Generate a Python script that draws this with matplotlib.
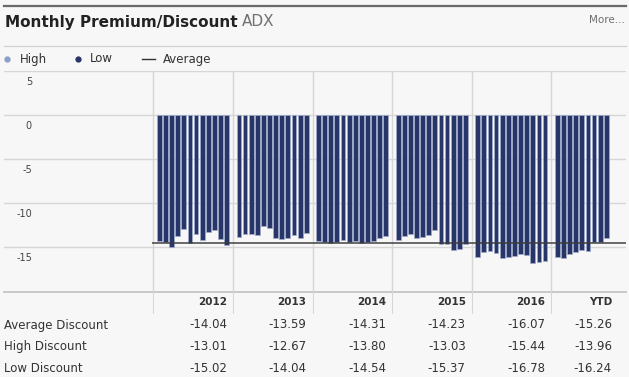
import numpy as np
import matplotlib.pyplot as plt

# data
years = ['2012', '2013', '2014', '2015', '2016', 'YTD']
m2012 = [-14.36, -14.47, -15.02, -13.80, -13.01, -14.55, -13.53, -14.25, -13.30, -13.12, -14.10, -14.82]
m2013 = [-13.91, -13.49, -13.49, -13.61, -12.67, -12.89, -13.98, -14.04, -14.02, -13.61, -14.02, -13.41]
m2014 = [-14.29, -14.44, -14.51, -14.40, -14.21, -14.44, -14.36, -14.54, -14.40, -14.32, -13.95, -13.80]
m2015 = [-14.17, -13.72, -13.57, -14.02, -13.87, -13.68, -13.03, -14.70, -14.66, -15.37, -15.23, -14.66]
m2016 = [-16.13, -15.53, -15.44, -15.68, -16.25, -16.13, -16.07, -15.79, -15.87, -16.78, -16.75, -16.55]
mytd = [-16.08, -16.24, -15.82, -15.52, -15.36, -15.50, -14.44, -14.42, -13.96]
monthly = [m2012, m2013, m2014, m2015, m2016, mytd]

avg_disc = [-14.04, -13.59, -14.31, -14.23, -16.07, -15.26]
high_disc = [-13.01, -12.67, -13.80, -13.03, -15.44, -13.96]
low_disc = [-15.02, -14.04, -14.54, -15.37, -16.78, -16.24]
row_names = ['Average Discount', 'High Discount', 'Low Discount']
yticks = [5, 0, -5, -10, -15]

W, H = 629, 377
col_left, col_w = 153.3, 79.6
bar_col = '#283569'
grid_col = '#d6d6d6'
txt_col = '#333333'

fig = plt.figure(figsize=(W / 100, H / 100), dpi=100)
fig.patch.set_facecolor('#f7f7f7')

# background axes in pixel coordinates for the frame, title, legend and table
bg = fig.add_axes([0, 0, 1, 1])
bg.set_xlim(0, W)
bg.set_ylim(H, 0)
bg.axis('off')

bg.plot([4, 626], [5.5, 5.5], color='#6a6a6a', lw=1.6)
bg.plot([4, 626], [46, 46], color='#d0d0d0', lw=0.9)
title = bg.text(5, 22, 'Monthly Premium/Discount', fontsize=11, fontweight='bold',
                color='#222222', va='center')
bg.annotate('ADX', xy=(1, 0.5), xycoords=title, xytext=(4, 0), textcoords='offset pixels',
            fontsize=11, color='#707070', va='center')
bg.text(625, 20, 'More...', fontsize=7.5, color='#6e6e6e', ha='right', va='center')

# legend
bg.plot(7, 59, 'o', ms=3.5, color='#8a9fca')
bg.text(20, 59, 'High', fontsize=8.5, color=txt_col, va='center')
bg.plot(78, 59, 'o', ms=3.5, color=bar_col)
bg.text(90, 59, 'Low', fontsize=8.5, color=txt_col, va='center')
bg.plot([142, 155], [59, 59], color='#333333', lw=1)
bg.text(163, 59, 'Average', fontsize=8.5, color=txt_col, va='center')

# chart
ax = fig.add_axes([4 / W, 1 - 291 / H, 622 / W, 220 / H])
ax.patch.set_alpha(0)
ax.set_xlim(-(col_left - 4) / col_w, (626 - col_left) / col_w)
ax.set_ylim(-20, 5)
for s in ax.spines.values():
    s.set_visible(False)
ax.set_xticks([])
ax.set_yticks([])

for v in yticks:
    ax.axhline(v, color=grid_col, lw=1, zorder=0)
    ax.annotate(str(v), xy=(0, v), xycoords=('axes fraction', 'data'), xytext=(28, -11),
                textcoords='offset pixels', ha='right', va='center', fontsize=7, color='#444444')
for i in range(len(years)):
    ax.axvline(i, color=grid_col, lw=1, zorder=0)

for i, vals in enumerate(monthly):
    x = i + (6.0 + 6.12 * np.arange(len(vals))) / col_w
    ax.bar(x, vals, width=4.8 / col_w, color=bar_col, edgecolor='#a3acc9', linewidth=0.5, zorder=2)

overall = np.mean(avg_disc)
ax.plot([0, ax.get_xlim()[1]], [overall, overall], color='#3a3a3a', lw=1.4, alpha=0.75, zorder=3)

# table
bg.plot([4, 626], [291.5, 291.5], color='#c8c8c8', lw=1.4)
for i in range(len(years)):
    x = col_left + col_w * i
    bg.plot([x, x], [291, 313], color=grid_col, lw=0.75)

rights = [col_left + col_w * (i + 1) - 6 for i in range(len(years) - 1)] + [612]
for i, yr in enumerate(years):
    bg.text(rights[i], 302, yr, fontsize=7.5, fontweight='bold', color=txt_col, ha='right', va='center')
for r, (name, vals) in enumerate(zip(row_names, [avg_disc, high_disc, low_disc])):
    y = 325 + 21.5 * r
    bg.text(4, y, name, fontsize=8.5, color=txt_col, va='center')
    for i, v in enumerate(vals):
        bg.text(rights[i], y, f'{v:.2f}', fontsize=8.5, color=txt_col, ha='right', va='center')

fig.savefig('out.png', dpi=100, facecolor=fig.get_facecolor())
